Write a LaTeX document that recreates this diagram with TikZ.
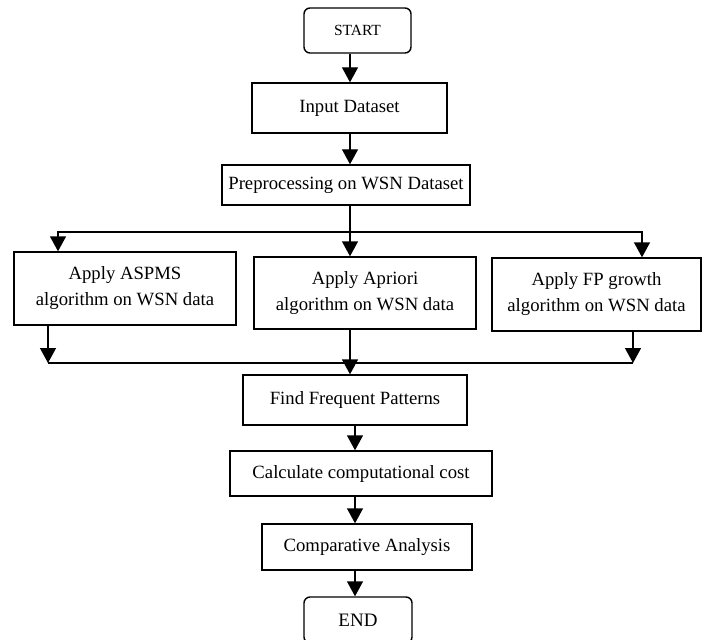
\documentclass[tikz,border=0pt]{standalone}
\usepackage{fontspec}
\setmainfont{Liberation Serif}
\usetikzlibrary{arrows.meta}
\begin{document}
\begin{tikzpicture}[x=1pt,y=-1pt,
  box/.style={draw, line width=1.4pt, inner sep=0pt, align=center,
    font=\fontsize{18.7}{26}\selectfont},
  term/.style={box, rounded corners=6pt},
  arr/.style={line width=1.4pt, -{Triangle[width=16pt,length=15pt]}},
  ln/.style={line width=1.4pt}]
\useasboundingbox (0,0) rectangle (703,639);
\clip (0,0) rectangle (703,639);
\node[term, minimum width=107pt, minimum height=45pt, font=\fontsize{15.5}{18}\selectfont] (start) at (357.5,30.5) {START};
\node[box, minimum width=195pt, minimum height=50pt] (input) at (349.5,108) {Input Dataset};
\node[box, minimum width=248pt, minimum height=40pt] (pre) at (346,185) {Preprocessing on WSN Dataset};
\node[box, minimum width=222pt, minimum height=73pt] (aspms) at (125,288.5) {Apply ASPMS\\algorithm on WSN data};
\node[box, minimum width=222pt, minimum height=72pt] (apriori) at (365,293) {Apply Apriori\\algorithm on WSN data};
\node[box, minimum width=209pt, minimum height=73pt] (fp) at (596.5,294.5) {Apply FP growth\\algorithm on WSN data};
\node[box, minimum width=224pt, minimum height=50pt] (find) at (355,400) {Find Frequent Patterns};
\node[box, minimum width=262pt, minimum height=45pt] (calc) at (361,473.5) {Calculate computational cost};
\node[box, minimum width=210pt, minimum height=46pt] (comp) at (367,547) {Comparative Analysis};
\node[term, minimum width=108pt, minimum height=46pt, font=\fontsize{19}{22}\selectfont] (end) at (358,620) {END};

\coordinate (cx) at (350,0);
\coordinate (lx) at (58,0);
\coordinate (rx) at (642,0);
\coordinate (blx) at (48,0);
\coordinate (brx) at (633,0);
\coordinate (split) at (350,232);
\coordinate (join) at (350,363);
\coordinate (dx) at (355,0);

\draw[arr] (start.south -| cx) -- (input.north -| cx);
\draw[arr] (input.south -| cx) -- (pre.north -| cx);
\draw[arr] (pre.south -| cx) -- (apriori.north -| cx);
\draw[arr] (split) -| (aspms.north -| lx);
\draw[arr] (split) -| (fp.north -| rx);
\draw[arr] (aspms.south -| blx) -- (join -| blx);
\draw[arr] (fp.south -| brx) -- (join -| brx);
\draw[ln] (join -| blx) -- (join -| brx);
\draw[arr] (apriori.south -| cx) -- (find.north -| cx);
\draw[arr] (find.south -| dx) -- (calc.north -| dx);
\draw[arr] (calc.south -| dx) -- (comp.north -| dx);
\draw[arr] (comp.south -| dx) -- (end.north -| dx);
\end{tikzpicture}
\end{document}
